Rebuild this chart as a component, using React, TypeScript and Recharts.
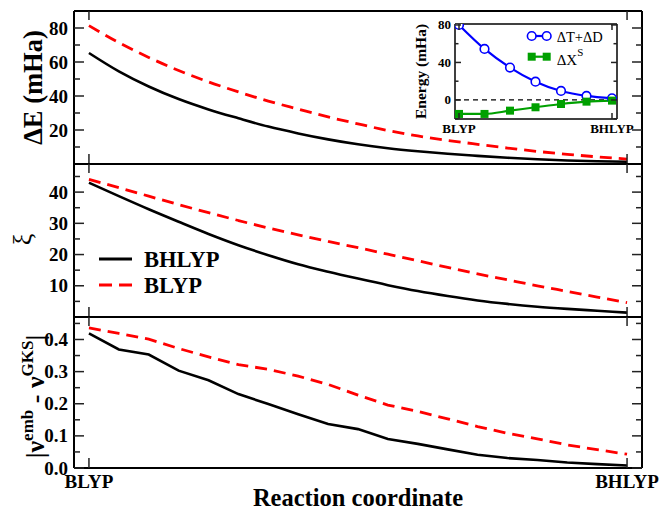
import React from 'react';
import { LineChart, Line, XAxis, YAxis, Legend, ReferenceLine, CartesianGrid } from 'recharts';

// reaction coordinate: BLYP (first) -> BHLYP (last)
const steps = [0, 1, 2, 3, 4, 5, 6, 7, 8, 9, 10, 11, 12, 13, 14, 15, 16, 17, 18];
const xNames = ['BLYP', 'BHLYP'];

// top panel, ΔE (mHa)
const dEBhlyp = [65.3, 54.5, 45.6, 38.2, 32.1, 26.9, 22.0, 18.0, 14.5, 11.6, 9.3, 7.5, 6.0, 4.8, 3.7, 2.8, 2.1, 1.6, 1.3];
const dEBlyp = [81.4, 71.4, 62.7, 55.0, 48.3, 42.4, 37.0, 32.3, 27.7, 23.6, 19.7, 16.5, 13.9, 11.6, 9.4, 7.4, 5.7, 4.2, 2.9];

// middle panel, ξ
const xiBhlyp = [43.0, 38.7, 34.5, 30.5, 26.6, 23.0, 19.8, 16.9, 14.5, 12.3, 10.2, 8.3, 6.7, 5.3, 4.2, 3.3, 2.6, 2.0, 1.4];
const xiBlyp = [44.1, 41.4, 38.7, 36.0, 33.4, 30.9, 28.5, 26.3, 24.2, 22.2, 20.1, 18.0, 15.9, 13.8, 11.9, 10.0, 8.2, 6.4, 4.6];

// bottom panel, |v_emb - v_GKS|
const dvBhlyp = [0.419, 0.369, 0.353, 0.303, 0.273, 0.230, 0.199, 0.167, 0.137, 0.121, 0.090, 0.075, 0.058, 0.041, 0.031, 0.025, 0.017, 0.012, 0.008];
const dvBlyp = [0.436, 0.419, 0.401, 0.372, 0.346, 0.322, 0.307, 0.286, 0.260, 0.227, 0.196, 0.176, 0.153, 0.129, 0.108, 0.091, 0.072, 0.057, 0.043];

// inset, energy components (mHa)
const insetSteps = [0, 1, 2, 3, 4, 5, 6];
const tPlusD = [80, 54.4, 34.5, 19.5, 9.6, 4.3, 1.8];
const xS = [-14.9, -14.9, -11.4, -7.8, -4.3, -1.8, -0.7];

const FONT = '"Liberation Serif", "Times New Roman", Times, serif';
const RED = '#ff0000';
const BLUE = '#0000ff';
const GREEN = '#00a000';

const energyRows = steps.map((x, i) => ({ x, bhlyp: dEBhlyp[i], blyp: dEBlyp[i] }));
const xiRows = steps.map((x, i) => ({ x, bhlyp: xiBhlyp[i], blyp: xiBlyp[i] }));
const dvRows = steps.map((x, i) => ({ x, bhlyp: dvBhlyp[i], blyp: dvBlyp[i] }));
const insetRows = insetSteps.map((x, i) => ({ x, td: tPlusD[i], xs: xS[i] }));

const mainName = (v: number) => (v === steps[0] ? xNames[0] : xNames[1]);
const insetName = (v: number) => (v === insetSteps[0] ? xNames[0] : xNames[1]);

// inward tick marks, with optional label on the major ones
function InTick(props: any) {
  const { x, y, payload, side, majors = [], len = 10, minorLen = 6, labels, fmt, fontSize = 19, gap = 6 } = props;
  const v = payload.value;
  const major = majors.includes(v);
  const l = major ? len : minorLen;
  let x2 = x;
  let y2 = y;
  if (side === 'left') x2 = x + l;
  if (side === 'right') x2 = x - l;
  if (side === 'top') y2 = y + l;
  if (side === 'bottom') y2 = y - l;
  let label = null;
  if (labels && major) {
    const s = fmt ? fmt(v) : String(v);
    if (side === 'left') {
      label = (
        <text x={x - gap} y={y} textAnchor="end" dominantBaseline="central" fontFamily={FONT} fontWeight="bold" fontSize={fontSize} fill="#000">
          {s}
        </text>
      );
    } else if (side === 'bottom') {
      label = (
        <text x={x} y={y + gap} textAnchor="middle" fontFamily={FONT} fontWeight="bold" fontSize={fontSize} fill="#000">
          {s}
        </text>
      );
    }
  }
  return (
    <g>
      <line x1={x} y1={y} x2={x2} y2={y2} stroke="#222" strokeWidth={1.5} />
      {label}
    </g>
  );
}

const frame = { stroke: '#000', strokeWidth: 2 };

function Panel(p: any) {
  return (
    <div style={{ position: 'absolute', left: 0, top: p.top }}>
      <LineChart width={662} height={p.height} data={p.rows} margin={{ top: p.mTop, right: 0, bottom: p.mBottom, left: 0 }}>
        <XAxis
          xAxisId="b" dataKey="x" type="number" domain={[-0.5, 18.5]} allowDataOverflow ticks={[0, 18]} interval={0}
          height={p.xHeight} axisLine={frame} tickLine={false} tickSize={0} tickMargin={0}
          tick={<InTick side="bottom" majors={[0, 18]} len={10} labels={p.xLabels} fmt={mainName} fontSize={19} gap={20} />}
          label={p.xTitle}
        />
        <XAxis
          xAxisId="t" orientation="top" dataKey="x" type="number" domain={[-0.5, 18.5]} allowDataOverflow ticks={[0, 18]} interval={0}
          height={1} axisLine={frame} tickLine={false} tickSize={0} tickMargin={0}
          tick={<InTick side="top" majors={[0, 18]} len={9} />}
        />
        <YAxis
          yAxisId="l" type="number" domain={p.domain} allowDataOverflow ticks={p.ticks} interval={0} width={74}
          axisLine={frame} tickLine={false} tickSize={0} tickMargin={0}
          tick={<InTick side="left" majors={p.majors} labels fmt={p.fmt} />}
          label={p.yTitle}
        />
        <YAxis
          yAxisId="r" orientation="right" type="number" domain={p.domain} allowDataOverflow ticks={p.ticks} interval={0} width={20}
          axisLine={frame} tickLine={false} tickSize={0} tickMargin={0}
          tick={<InTick side="right" majors={p.majors} />}
        />
        <Line xAxisId="b" yAxisId="l" name="BHLYP" dataKey="bhlyp" type={p.curve} stroke="#000" strokeWidth={2.6} dot={false} isAnimationActive={false} />
        <Line xAxisId="b" yAxisId="l" name="BLYP" dataKey="blyp" type={p.curve} stroke={RED} strokeWidth={2.8} strokeDasharray="12 7" dot={false} isAnimationActive={false} />
        {p.children}
      </LineChart>
    </div>
  );
}

const energyTitle = (props: any) => {
  const vb = props.viewBox;
  const cy = vb.y + vb.height / 2;
  return (
    <text transform={`translate(42,${cy}) rotate(-90)`} textAnchor="middle" fontFamily={FONT} fontWeight="bold" fontSize={26.5} fill="#000">
      ΔE (mHa)
    </text>
  );
};

const xiTitle = (props: any) => {
  const vb = props.viewBox;
  const cy = vb.y + vb.height / 2 - 1;
  return (
    <text transform={`translate(31,${cy}) rotate(-90)`} textAnchor="middle" fontFamily={FONT} fontSize={26} fill="#000">
      ξ
    </text>
  );
};

const dvTitle = (props: any) => {
  const vb = props.viewBox;
  const cy = vb.y + vb.height / 2 + 4;
  return (
    <text transform={`translate(44,${cy}) rotate(-90)`} textAnchor="middle" fontFamily={FONT} fontWeight="bold" fontSize={26} fill="#000">
      |ν<tspan dy={-11} fontSize={17}>emb</tspan><tspan dy={11}> - ν</tspan><tspan dy={-11} fontSize={17}>GKS</tspan><tspan dy={11}>|</tspan>
    </text>
  );
};

const reactionTitle = (props: any) => {
  const vb = props.viewBox;
  return (
    <text x={vb.x + vb.width / 2} y={vb.y + 38} textAnchor="middle" fontFamily={FONT} fontWeight="bold" fontSize={24.5} fill="#000">
      Reaction coordinate
    </text>
  );
};

const energyYTitle = (props: any) => {
  const vb = props.viewBox;
  const cy = vb.y + vb.height / 2;
  return (
    <text transform={`translate(16,${cy}) rotate(-90)`} textAnchor="middle" fontFamily={FONT} fontWeight="bold" fontSize={15.5} fill="#000">
      Energy (mHa)
    </text>
  );
};

function MainKey(props: any) {
  const items = props.payload || [];
  return (
    <svg width={140} height={60} style={{ display: 'block' }}>
      {items.map((it: any, i: number) => (
        <g key={it.value}>
          <line x1={4} x2={37} y1={14 + i * 26} y2={14 + i * 26} stroke={it.color} strokeWidth={2.8} strokeDasharray={i === 1 ? '13 7' : undefined} />
          <text x={49} y={22 + i * 25.5} fontFamily={FONT} fontWeight="bold" fontSize={22.5} fill="#000">{it.value}</text>
        </g>
      ))}
    </svg>
  );
}

function InsetKey() {
  return (
    <svg width={110} height={52} style={{ display: 'block' }}>
      <line x1={8} x2={30} y1={16} y2={16} stroke={BLUE} strokeWidth={2.2} />
      <circle cx={11.7} cy={16} r={4.3} fill="#fff" stroke={BLUE} strokeWidth={1.6} />
      <circle cx={26.7} cy={16} r={4.3} fill="#fff" stroke={BLUE} strokeWidth={1.6} />
      <text x={36.7} y={22} fontFamily={FONT} fontSize={14.5} fill="#000">ΔT+ΔD</text>
      <line x1={8} x2={30} y1={36.7} y2={36.7} stroke={GREEN} strokeWidth={2.2} />
      <rect x={7.7} y={32.7} width={8} height={8} fill={GREEN} />
      <rect x={22.7} y={32.7} width={8} height={8} fill={GREEN} />
      <text x={36.7} y={45} fontFamily={FONT} fontSize={15} fill="#000">
        ΔX<tspan dy={-9} fontSize={11}>S</tspan>
      </text>
    </svg>
  );
}

const squareDot = (p: any) => (
  <rect key={`sq-${p.index}`} x={p.cx - 4} y={p.cy - 4} width={8} height={8} fill={GREEN} />
);

const insetFrame = { stroke: '#000', strokeWidth: 1.5 };

function Inset() {
  return (
    <div style={{ position: 'absolute', left: 410, top: 10 }}>
      <LineChart width={230} height={135} data={insetRows} margin={{ top: 13, right: 0, bottom: 0, left: 0 }}>
        <CartesianGrid xAxisId="b" yAxisId="l" fill="#fff" stroke="none" />
        <XAxis
          xAxisId="b" dataKey="x" type="number" domain={[-0.157, 6.196]} allowDataOverflow ticks={[0, 6]} interval={0}
          height={26} axisLine={insetFrame} tickLine={false} tickSize={0} tickMargin={0}
          tick={<InTick side="bottom" majors={[0, 6]} len={6} labels fmt={insetName} fontSize={13} gap={14} />}
        />
        <XAxis
          xAxisId="t" orientation="top" dataKey="x" type="number" domain={[-0.157, 6.196]} allowDataOverflow ticks={[0, 6]} interval={0}
          height={1} axisLine={insetFrame} tickLine={false} tickSize={0} tickMargin={0}
          tick={<InTick side="top" majors={[0, 6]} len={6} />}
        />
        <YAxis
          yAxisId="l" type="number" domain={[-20.3, 81]} allowDataOverflow ticks={[-20, 0, 20, 40, 60, 80]} interval={0} width={45}
          axisLine={insetFrame} tickLine={false} tickSize={0} tickMargin={0}
          tick={<InTick side="left" majors={[0, 40, 80]} len={6} minorLen={3.5} labels fontSize={13} gap={4} />}
          label={energyYTitle}
        />
        <YAxis
          yAxisId="r" orientation="right" type="number" domain={[-20.3, 81]} allowDataOverflow ticks={[-20, 0, 20, 40, 60, 80]} interval={0} width={23}
          axisLine={insetFrame} tickLine={false} tickSize={0} tickMargin={0}
          tick={<InTick side="right" majors={[0, 40, 80]} len={6} minorLen={3.5} />}
        />
        <ReferenceLine xAxisId="b" yAxisId="l" y={0} stroke="#000" strokeWidth={1.2} strokeDasharray="5 4" />
        <Line
          xAxisId="b" yAxisId="l" name="ΔT+ΔD" dataKey="td" type="monotone" stroke={BLUE} strokeWidth={2.2}
          dot={{ r: 4.3, fill: '#fff', stroke: BLUE, strokeWidth: 1.6 }} isAnimationActive={false}
        />
        <Line
          xAxisId="b" yAxisId="l" name="ΔXS" dataKey="xs" type="monotone" stroke={GREEN} strokeWidth={2.2}
          dot={squareDot} isAnimationActive={false}
        />
        <Legend layout="horizontal" verticalAlign="middle" align="center" content={<InsetKey />}
          wrapperStyle={{ position: 'absolute', left: 110, top: 10, width: 110, height: 52 }} />
      </LineChart>
    </div>
  );
}

export default function App() {
  return (
    <div style={{ position: 'absolute', left: 0, top: 0, width: 662, height: 512, background: '#fff', overflow: 'hidden' }}>
      <Panel
        top={0} height={175} mTop={10} mBottom={10} xHeight={1}
        rows={energyRows} domain={[0, 90]} ticks={[10, 20, 30, 40, 50, 60, 70, 80]} majors={[20, 40, 60, 80]}
        curve="monotone" yTitle={energyTitle}
      />
      <Panel
        top={150} height={180} mTop={13} mBottom={12} xHeight={1}
        rows={xiRows} domain={[0, 49]} ticks={[5, 10, 15, 20, 25, 30, 35, 40, 45]} majors={[10, 20, 30, 40]}
        curve="monotone" yTitle={xiTitle}
      >
        <Legend layout="horizontal" verticalAlign="middle" align="center" content={<MainKey />}
          wrapperStyle={{ position: 'absolute', left: 95, top: 95, width: 140, height: 60 }} />
      </Panel>
      <Panel
        top={300} height={212} mTop={16} mBottom={0} xHeight={44}
        rows={dvRows} domain={[0, 0.47]} ticks={[0, 0.05, 0.1, 0.15, 0.2, 0.25, 0.3, 0.35, 0.4, 0.45]}
        majors={[0, 0.1, 0.2, 0.3, 0.4]} fmt={(v: number) => v.toFixed(1)}
        curve="linear" xLabels xTitle={reactionTitle} yTitle={dvTitle}
      />
      <Inset />
    </div>
  );
}
